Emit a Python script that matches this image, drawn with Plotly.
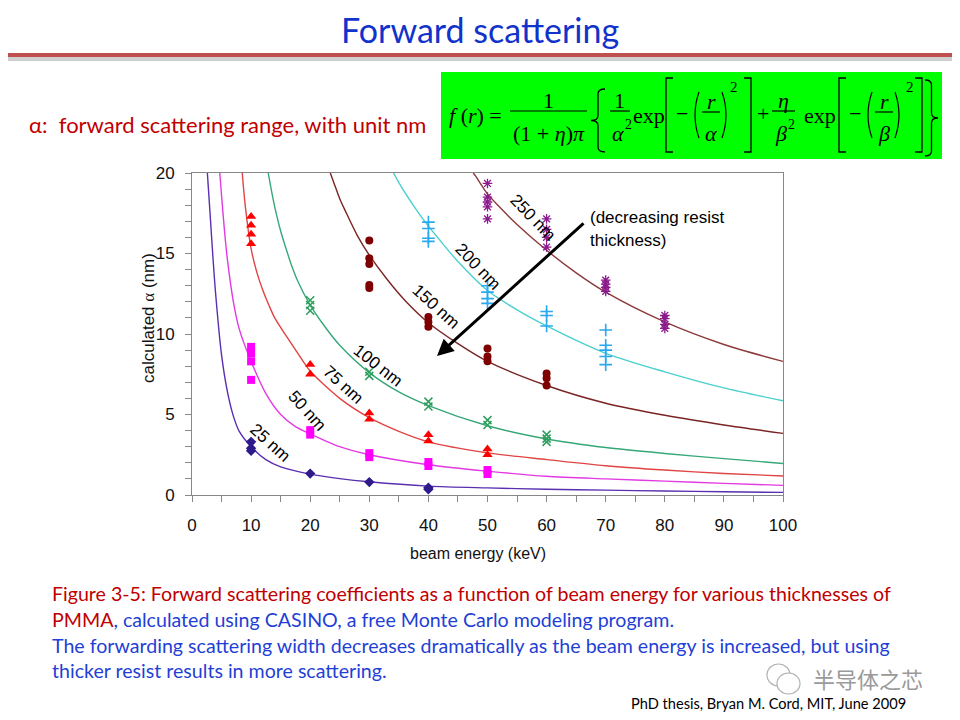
import plotly.graph_objects as go

# ---------------- data ----------------
thickness_labels = ["25 nm", "50 nm", "75 nm", "100 nm", "150 nm", "200 nm", "250 nm"]

# fitted curves: beam energy (keV) -> calculated alpha (nm)
fit25_E = [2.6, 3.0, 3.5, 4, 5, 6, 7, 8, 10, 12.5, 15, 20, 25, 30, 40, 50, 60, 70, 80, 90, 100]
fit25_a = [20, 17.8, 15.0, 12.5, 8.7, 6.4, 4.9, 3.95, 3.0, 2.2, 1.75, 1.3, 1.02, 0.82, 0.55, 0.44, 0.36, 0.3, 0.25, 0.2, 0.16]

fit50_E = [4.7, 5, 5.5, 6, 7, 8, 10, 12.5, 15, 17.5, 20, 25, 30, 40, 50, 60, 70, 80, 90, 100]
fit50_a = [20, 18.6, 16.4, 14.6, 12.0, 10.3, 8.3, 6.3, 5.0, 4.25, 3.8, 3.0, 2.5, 1.88, 1.48, 1.16, 1.0, 0.86, 0.72, 0.6]

fit75_E = [8.5, 9, 10, 11, 12, 13, 14, 16, 18, 20, 25, 30, 35, 40, 50, 60, 70, 80, 90, 100]
fit75_a = [20, 18.0, 15.3, 13.8, 12.7, 11.8, 11.0, 9.85, 8.75, 7.7, 6.0, 4.8, 3.95, 3.3, 2.62, 2.2, 1.82, 1.55, 1.34, 1.18]

fit100_E = [12.9, 13.5, 14, 15, 16, 17, 18, 20, 22, 25, 30, 35, 40, 50, 60, 70, 80, 90, 100]
fit100_a = [20, 18.8, 17.9, 16.4, 15.2, 14.1, 13.2, 11.8, 10.7, 9.3, 7.6, 6.4, 5.55, 4.3, 3.48, 2.95, 2.58, 2.26, 1.96]

fit150_E = [23.4, 24, 25, 26, 28, 30, 33, 36, 40, 45, 50, 60, 70, 80, 90, 100]
fit150_a = [20, 19.4, 18.4, 17.6, 16.1, 14.9, 13.4, 12.1, 10.7, 9.4, 8.3, 6.8, 5.7, 4.95, 4.35, 3.83]

fit200_E = [34.1, 35, 36, 38, 40, 42, 45, 50, 55, 60, 70, 80, 90, 100]
fit200_a = [20, 19.4, 18.8, 17.7, 16.7, 15.8, 14.5, 12.7, 11.5, 10.5, 8.8, 7.65, 6.65, 5.85]

fit250_E = [47.6, 48, 50, 52, 55, 60, 65, 70, 80, 90, 100]
fit250_a = [20, 19.8, 18.7, 17.9, 16.8, 15.2, 13.8, 12.6, 10.75, 9.35, 8.3]

# CASINO simulation points
m25_E = [10, 10, 10, 20, 30, 40, 40]
m25_a = [3.3, 2.9, 2.75, 1.33, 0.8, 0.45, 0.35]
m50_E = [10, 10, 10, 10, 20, 20, 30, 30, 40, 40, 50, 50]
m50_a = [9.2, 8.8, 8.3, 7.15, 4.03, 3.75, 2.6, 2.35, 2.05, 1.8, 1.55, 1.3]
m75_E = [10, 10, 10, 10, 20, 20, 30, 30, 40, 40, 50, 50]
m75_a = [17.3, 16.75, 16.2, 15.6, 8.1, 7.5, 5.1, 4.7, 3.75, 3.35, 2.85, 2.5]
m100_E = [20, 20, 20, 30, 30, 40, 40, 50, 50, 60, 60, 60]
m100_a = [12.1, 11.8, 11.45, 7.65, 7.4, 5.8, 5.5, 4.65, 4.35, 3.75, 3.5, 3.3]
m150_E = [30, 30, 30, 30, 30, 40, 40, 40, 50, 50, 50, 60, 60, 60]
m150_a = [15.8, 14.7, 14.35, 13.05, 12.85, 11.05, 10.75, 10.45, 9.1, 8.6, 8.3, 7.55, 7.25, 6.8]
m200_E = [40, 40, 40, 40, 50, 50, 50, 50, 60, 60, 60, 70, 70, 70, 70, 70]
m200_a = [16.95, 16.55, 15.95, 15.75, 13.0, 12.6, 12.2, 11.9, 11.4, 11.15, 10.5, 10.25, 9.3, 9.0, 8.6, 8.1]
m250_E = [50, 50, 50, 50, 50, 60, 60, 60, 60, 70, 70, 70, 70, 80, 80, 80, 80]
m250_a = [19.35, 18.5, 18.2, 17.9, 17.15, 17.15, 16.5, 16.0, 15.4, 13.35, 13.1, 12.9, 12.65, 11.15, 10.95, 10.6, 10.35]

x_tick_vals = [0, 10, 20, 30, 40, 50, 60, 70, 80, 90, 100]
y_tick_vals = [0, 5, 10, 15, 20]

# ---------------- geometry helpers ----------------
# the page body has an 8px margin, so figure pixels = screen pixels - 8
OFF = 8
W, H = 960, 720
PW, PH = 591, 322
L, T = 192 - OFF, 173 - OFF
R, B = W - L - PW, H - T - PH


def X(p):
    return (p - OFF - L) / PW


def Y(p):
    return (T + PH - (p - OFF)) / PH


fig = go.Figure()

curves = [
    (fit25_E, fit25_a, "#5a2fb0"),
    (fit50_E, fit50_a, "#e23ae2"),
    (fit75_E, fit75_a, "#e04444"),
    (fit100_E, fit100_a, "#35a878"),
    (fit150_E, fit150_a, "#7a2424"),
    (fit200_E, fit200_a, "#4ccfcf"),
    (fit250_E, fit250_a, "#8c3a3a"),
]
for e, a, c in curves:
    fig.add_trace(go.Scatter(x=e, y=a, mode="lines", line=dict(color=c, width=1.4, shape="spline", smoothing=0.8),
                             hoverinfo="skip", showlegend=False))

markers = [
    (m25_E, m25_a, dict(symbol="diamond", size=8, color="#2e1a8a")),
    (m50_E, m50_a, dict(symbol="square", size=8, color="#ff00ff")),
    (m75_E, m75_a, dict(symbol="triangle-up", size=9, color="#ff0000")),
    (m100_E, m100_a, dict(symbol="x-thin", size=8, color="#2e9e5e", line=dict(color="#2e9e5e", width=1.5))),
    (m150_E, m150_a, dict(symbol="circle", size=8, color="#7f0000")),
    (m200_E, m200_a, dict(symbol="cross-thin", size=9, color="#2aa8f0", line=dict(color="#2aa8f0", width=1.6))),
    (m250_E, m250_a, dict(symbol="asterisk", size=8, color="#8b1a8b", line=dict(color="#8b1a8b", width=1.3))),
]
for e, a, m in markers:
    fig.add_trace(go.Scatter(x=e, y=a, mode="markers", marker=m, showlegend=False, cliponaxis=False))

axis_font = dict(family="Liberation Sans, Arial", size=17, color="#111")
fig.update_xaxes(range=[0, 100], tickvals=x_tick_vals, ticks="outside", ticklen=6, tickcolor="#888",
                 showline=True, linecolor="#888", linewidth=1, mirror=True, showgrid=False, zeroline=False,
                 tickfont=axis_font, ticklabelstandoff=9,
                 minor=dict(dtick=5, ticks="outside", ticklen=6, tickcolor="#888"))
fig.update_yaxes(range=[0, 20], tickvals=y_tick_vals, ticks="outside", ticklen=6, tickcolor="#888",
                 showline=True, linecolor="#888", linewidth=1, mirror=True, showgrid=False, zeroline=False,
                 tickfont=axis_font, ticklabelstandoff=7,
                 minor=dict(dtick=1, ticks="outside", ticklen=6, tickcolor="#888"))

anns = []
shapes = []


def txt(x, y, text, size, color="#000", family="Liberation Serif, Times New Roman", xa="center", ya="middle",
        angle=0):
    anns.append(dict(x=X(x), y=Y(y), xref="paper", yref="paper", text=text, showarrow=False,
                     font=dict(family=family, size=size, color=color), xanchor=xa, yanchor=ya, textangle=angle))


lab_font = "Liberation Sans, Arial"
# axis titles
txt(478, 553, "beam energy (keV)", 16, color="#111", family=lab_font)
txt(148, 318, 'calculated <span style="font-family:Liberation Serif">α</span> (nm)', 17, color="#111",
    family=lab_font, angle=-90)

# curve labels
for (cx, cy, ang), t in zip([(270, 442, 42), (307, 410, 48), (343, 384, 42), (378, 365, 38),
                             (436, 306, 42), (478, 266, 46), (533, 217, 46)], thickness_labels):
    txt(cx, cy, t, 17, family=lab_font, angle=ang)

# arrow
anns.append(dict(x=X(437), y=Y(356), xref="paper", yref="paper", ax=148, ay=-134, text="",
                 showarrow=True, arrowhead=2, arrowsize=1.1, arrowwidth=3, arrowcolor="#000"))
txt(588, 217, "(decreasing resist", 17, family=lab_font, xa="left")
txt(588, 240, "thickness)", 17, family=lab_font, xa="left")

# slide title and rule
txt(480, 29, "Forward scattering", 34, color="#1133cc", family="Lato, Open Sans")
shapes.append(dict(type="rect", xref="paper", yref="paper", x0=X(0), x1=X(968), y0=Y(57), y1=Y(61),
                   fillcolor="#d0d0d0", line=dict(width=0), layer="below"))
shapes.append(dict(type="line", xref="paper", yref="paper", x0=X(0), x1=X(968), y0=Y(55), y1=Y(55),
                   line=dict(color="#c0504d", width=4)))

txt(27, 125, "α:  forward scattering range, with unit nm", 22, color="#c00000", family="Lato, Open Sans", xa="left")

# formula box
shapes.append(dict(type="rect", xref="paper", yref="paper", x0=X(441), x1=X(942), y0=Y(72), y1=Y(159),
                   fillcolor="#00ff00", line=dict(width=0), layer="below"))
fs = 22
mid = 113
txt(475, mid + 2, "<i>f</i> (<i>r</i>) =", fs)
# 1/((1+eta)pi)
txt(548, 100, "1", fs)
shapes.append(dict(type="line", xref="paper", yref="paper", x0=X(510), x1=X(587), y0=Y(111), y1=Y(111),
                   line=dict(color="#000", width=1.2)))
txt(549, 133, "(1 + <i>η</i>)<i>π</i>", fs)
# 1/alpha^2
txt(619, 100, "1", fs)
shapes.append(dict(type="line", xref="paper", yref="paper", x0=X(610), x1=X(630), y0=Y(111), y1=Y(111),
                   line=dict(color="#000", width=1.2)))
txt(618, 134, "<i>α</i>", fs)
txt(628, 124, "2", 14)
txt(649, mid + 2, "exp", fs)
txt(682, mid, "−", fs)
txt(711, 101, "<i>r</i>", fs)
shapes.append(dict(type="line", xref="paper", yref="paper", x0=X(702), x1=X(720), y0=Y(112), y1=Y(112),
                   line=dict(color="#000", width=1.2)))
txt(711, 133, "<i>α</i>", fs)
txt(734, 87, "2", 15)
txt(763, mid, "+", fs)
txt(783, 100, "<i>η</i>", fs)
shapes.append(dict(type="line", xref="paper", yref="paper", x0=X(772), x1=X(795), y0=Y(111), y1=Y(111),
                   line=dict(color="#000", width=1.2)))
txt(781, 134, "<i>β</i>", fs)
txt(791, 124, "2", 14)
txt(820, mid + 2, "exp", fs)
txt(855, mid, "−", fs)
txt(884, 101, "<i>r</i>", fs)
shapes.append(dict(type="line", xref="paper", yref="paper", x0=X(875), x1=X(893), y0=Y(112), y1=Y(112),
                   line=dict(color="#000", width=1.2)))
txt(884, 133, "<i>β</i>", fs)
txt(910, 87, "2", 15)


def path_shape(pts_cmd, width=1.3):
    shapes.append(dict(type="path", xref="paper", yref="paper", path=pts_cmd, line=dict(color="#000", width=width)))


def P(x, y):
    return f"{X(x):.5f},{Y(y):.5f}"


def bracket(xl, xr, top, bot, left=True):
    if left:
        path_shape(f"M{P(xr, top)} L{P(xl, top)} L{P(xl, bot)} L{P(xr, bot)}", 1.3)
    else:
        path_shape(f"M{P(xl, top)} L{P(xr, top)} L{P(xr, bot)} L{P(xl, bot)}", 1.3)


def paren(x_out, x_in, top, bot):
    ym = (top + bot) / 2
    path_shape(f"M{P(x_in, top)} Q{P(x_out - (x_in - x_out) * 0.6, ym)} {P(x_in, bot)}", 1.2)


def brace(x_tip, x_end, top, bot):
    ym = (top + bot) / 2
    xm = (x_tip + x_end) / 2
    d = 5
    path_shape(f"M{P(x_end, top)} Q{P(xm, top)} {P(xm, top + d)} L{P(xm, ym - d)} Q{P(xm, ym)} {P(x_tip, ym)} "
               f"Q{P(xm, ym)} {P(xm, ym + d)} L{P(xm, bot - d)} Q{P(xm, bot)} {P(x_end, bot)}", 1.3)


brace(591, 605, 89, 152)
brace(938, 925, 80, 156)
bracket(666, 673, 78, 152, True)
bracket(744, 751, 78, 152, False)
bracket(839, 846, 78, 152, True)
bracket(915, 922, 78, 152, False)
paren(694, 699, 92, 138)
paren(727, 722, 92, 138)
paren(867, 872, 92, 138)
paren(900, 895, 92, 138)

# caption
cap_font = "Lato, Open Sans"
blue = "#1f3fd6"
red = "#c00000"
cs = 19.6
txt(50, 593, "Figure 3-5: Forward scattering coefficients as a function of beam energy for various thicknesses of",
    cs, color=red, family=cap_font, xa="left")
txt(50, 619, f'<span style="color:{red}">PMMA</span>, calculated using CASINO, a free Monte Carlo modeling program.',
    cs, color=blue, family=cap_font, xa="left")
txt(50, 645, "The forwarding scattering width decreases dramatically as the beam energy is increased, but using",
    cs, color=blue, family=cap_font, xa="left")
txt(50, 670, "thicker resist results in more scattering.", cs, color=blue, family=cap_font, xa="left")
txt(908, 703, "PhD thesis, Bryan M. Cord, MIT, June 2009", 14.6, color="#000", family=cap_font, xa="right")

# watermark
shapes.append(dict(type="circle", xref="paper", yref="paper", x0=X(767), x1=X(790), y0=Y(664), y1=Y(686),
                   line=dict(color="#b0b0b0", width=1.2)))
shapes.append(dict(type="circle", xref="paper", yref="paper", x0=X(777), x1=X(800), y0=Y(673), y1=Y(694),
                   line=dict(color="#b0b0b0", width=1.2), fillcolor="#ffffff"))
txt(868, 678, "半导体之芯", 22, color="#9a9a9a", family="Noto Sans CJK SC")

fig.update_layout(width=W, height=H, margin=dict(l=L, r=R, t=T, b=B), autosize=False,
                  paper_bgcolor="#ffffff", plot_bgcolor="#ffffff", showlegend=False,
                  annotations=anns, shapes=shapes)

fig.write_html("out.html")
